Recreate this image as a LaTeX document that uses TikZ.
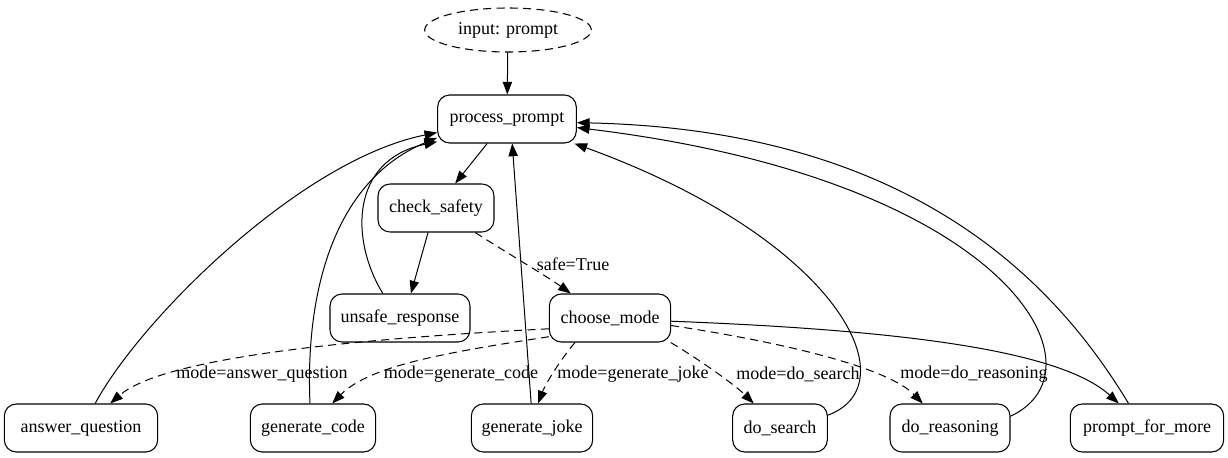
\documentclass[tikz,border=0pt]{standalone}
\usepackage{fontspec}
\setmainfont{Liberation Serif}
\usetikzlibrary{shapes.geometric, arrows.meta, positioning}
\tikzset{
	stateblk/.style={rectangle, rounded corners=9pt, draw=black, line width=0.8pt, minimum height=36pt, inner xsep=6pt, align=center},
	inputell/.style={ellipse, draw=black, line width=0.8pt, dash pattern=on 6pt off 4pt, minimum width=125pt, minimum height=33pt},
	tr/.style={-{Triangle[length=9.5pt, width=7pt]}, line width=0.75pt},
	condtr/.style={tr, dash pattern=on 6pt off 4pt},
	elabel/.style={inner sep=1pt},
}
\begin{document}
\begin{tikzpicture}[x=0.75pt, y=-0.75pt, font=\fontsize{13.5}{16}\selectfont]
	\useasboundingbox (0,0) rectangle (1228,457);
	% states
	\node[inputell] (input) at (508,30) {input: prompt};
	\node[stateblk, minimum width=104pt] (prompt) at (507,119) {process\_prompt};
	\node[stateblk, minimum width=87pt] (safety) at (436,208) {check\_safety};
	\node[stateblk, minimum width=105pt] (unsafe) at (400,318) {unsafe\_response};
	\node[stateblk, minimum width=91pt] (mode) at (610,318) {choose\_mode};
	\node[stateblk, minimum width=115pt] (answer) at (81,428) {answer\_question};
	\node[stateblk, minimum width=94pt] (code) at (313,428) {generate\_code};
	\node[stateblk, minimum width=91pt] (joke) at (532,428) {generate\_joke};
	\node[stateblk, minimum width=71pt] (search) at (780,428) {do\_search};
	\node[stateblk, minimum width=90pt] (reason) at (950,428) {do\_reasoning};
	\node[stateblk, minimum width=115pt] (more) at (1147,428) {prompt\_for\_more};
	% transitions
	\draw[tr] (input) -- (prompt);
	\draw[tr] (prompt.231) -- (safety.52);
	\draw[tr] (safety.252) -- (unsafe.66);
	\draw[condtr] (safety.328) .. controls (510,255) and (545,275) .. (mode.148);
	\node[elabel] (lsafe) at (573,264) {safe=True};
	\draw[tr] (unsafe.125) .. controls (350,240) and (350,160) .. (prompt.198);
	\draw[tr] (answer.60) .. controls (140,320) and (300,160) .. (prompt.191);
	\draw[tr] (code.97) .. controls (305,290) and (335,180) .. (prompt.195);
	\draw[tr] (joke.92) -- (prompt.282);
	\draw[tr] (search.15) .. controls (910,385) and (840,240) .. (prompt.340);
	\draw[tr] (reason.11) .. controls (1110,370) and (1010,180) .. (prompt.353);
	\draw[tr] (more.127) .. controls (1060,290) and (920,130) .. (prompt.357);
	\draw[tr] (mode.357) .. controls (900,330) and (1060,350) .. (more.139);
	% mode branches
	\draw[condtr] (mode.190) .. controls (330,340) and (160,360) .. (answer.40);
	\node[elabel] (lanswer) at (262,374) {mode=answer\_question};
	\draw[condtr] (mode.197) .. controls (450,352) and (370,365) .. (code.52);
	\node[elabel] (lcode) at (461,374) {mode=generate\_code};
	\draw[condtr] (mode.215) .. controls (560,360) and (545,385) .. (joke.76);
	\node[elabel] (ljoke) at (633,374) {mode=generate\_joke};
	\draw[condtr] (mode.338) .. controls (700,360) and (735,385) .. (search.137);
	\node[elabel] (lsearch) at (798,374) {mode=do\_search};
	\draw[condtr] (mode.353) .. controls (800,345) and (890,370) .. (reason.138);
	\node[elabel] (lreason) at (974,374) {mode=do\_reasoning};
\end{tikzpicture}
\end{document}
